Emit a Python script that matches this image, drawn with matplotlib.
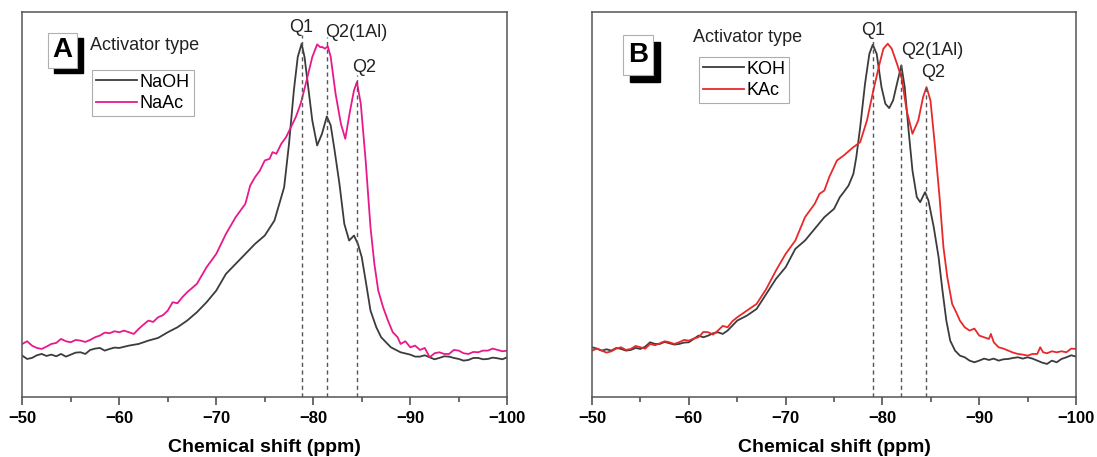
import numpy as np
import matplotlib.pyplot as plt
from matplotlib.patches import Rectangle

plt.rcParams['font.family'] = ['Liberation Sans', 'DejaVu Sans']

# 29Si NMR spectra: (chemical shift ppm, intensity a.u.)
# panel A: sodium activators
naoh = [(-50, 12.5), (-50.5, 11.5), (-51, 11.8), (-51.5, 12.6), (-52, 13.0), (-52.5, 12.4),
        (-53, 12.8), (-53.5, 12.3), (-54, 13.0), (-54.5, 12.2), (-55, 12.8), (-55.5, 13.4),
        (-56, 13.5), (-56.5, 13.0), (-57, 14.2), (-57.5, 14.6), (-58, 14.8), (-58.5, 14.0),
        (-59, 14.5), (-59.5, 14.9), (-60, 14.8), (-61, 15.5), (-62, 16.0), (-63, 17.0),
        (-64, 17.8), (-65, 19.5), (-66, 21.0), (-67, 23.0), (-68, 25.5), (-69, 28.5),
        (-70, 32.0), (-71, 37.0), (-72, 40.0), (-73, 43.0), (-74, 46.0), (-75, 48.5),
        (-76, 53.0), (-77, 63.0), (-77.5, 76.0), (-78, 92.0), (-78.4, 102.0), (-78.8, 106.0),
        (-79.1, 102.0), (-79.5, 92.5), (-79.9, 83.0), (-80.4, 75.5), (-80.9, 79.0),
        (-81.4, 84.2), (-81.8, 81.5), (-82.2, 74.0), (-82.7, 64.0), (-83.2, 52.0),
        (-83.7, 47.0), (-84.2, 48.5), (-84.6, 46.0), (-85, 42.0), (-85.4, 35.0), (-85.9, 26.0),
        (-86.5, 21.0), (-87, 18.0), (-88, 15.0), (-89, 13.5), (-90, 12.8), (-90.5, 12.2),
        (-91, 12.2), (-91.5, 12.6), (-92, 12.0), (-92.5, 11.4), (-93, 11.8), (-93.5, 12.3),
        (-94, 12.2), (-94.5, 11.8), (-95, 11.5), (-95.5, 11.0), (-96, 11.2), (-96.5, 11.8),
        (-97, 11.8), (-97.5, 11.4), (-98, 11.5), (-98.5, 11.9), (-99, 11.7), (-99.5, 11.4),
        (-100, 12.0)]

naac = [(-50, 16.0), (-50.5, 16.8), (-51, 15.5), (-51.5, 14.8), (-52, 14.5), (-52.5, 15.2),
        (-53, 16.0), (-53.5, 16.3), (-54, 17.5), (-54.5, 16.8), (-55, 16.5), (-55.5, 17.2),
        (-56, 17.0), (-56.5, 16.6), (-57, 17.2), (-57.5, 18.0), (-58, 18.5), (-58.5, 19.4),
        (-59, 19.2), (-59.5, 19.8), (-60, 19.5), (-60.5, 20.0), (-61, 19.5), (-61.5, 19.0),
        (-62, 20.5), (-62.5, 21.8), (-63, 23.0), (-63.5, 22.6), (-64, 24.0), (-64.5, 24.6),
        (-65, 26.0), (-65.5, 28.5), (-66, 28.2), (-66.5, 30.0), (-67, 31.5), (-68, 34.0),
        (-69, 39.0), (-70, 43.0), (-71, 49.0), (-72, 54.0), (-73, 58.0), (-73.5, 63.5),
        (-74, 66.0), (-74.5, 68.0), (-75, 71.0), (-75.5, 71.5), (-75.8, 73.5), (-76.2, 73.0),
        (-76.7, 76.0), (-77.2, 78.0), (-77.7, 81.0), (-78.2, 84.0), (-78.7, 88.0),
        (-79.1, 92.5), (-79.4, 96.0), (-79.9, 102.0), (-80.4, 105.8), (-80.7, 105.0),
        (-80.95, 105.0), (-81.2, 104.5), (-81.5, 105.2), (-81.8, 102.0), (-82.3, 91.0),
        (-82.85, 82.0), (-83.3, 77.5), (-83.8, 86.0), (-84.2, 92.0), (-84.5, 94.5),
        (-84.9, 88.0), (-85.4, 71.0), (-85.9, 51.0), (-86.3, 40.0), (-86.7, 32.0),
        (-87.2, 27.0), (-87.7, 23.0), (-88.2, 19.5), (-88.7, 18.0), (-89, 16.0), (-89.5, 16.8),
        (-90, 15.0), (-90.5, 15.5), (-91, 14.2), (-91.5, 14.8), (-92, 12.0), (-92.5, 13.2),
        (-93, 13.5), (-93.5, 13.0), (-94, 13.0), (-94.5, 14.2), (-95, 14.0), (-95.5, 13.2),
        (-96, 13.0), (-96.5, 13.6), (-97, 13.5), (-97.5, 14.0), (-98, 14.0), (-98.5, 14.6),
        (-99, 14.2), (-99.5, 13.8), (-100, 14.0)]

# panel B: potassium activators
koh = [(-50, 15.0), (-50.5, 14.6), (-51, 14.0), (-51.5, 14.4), (-52, 14.0), (-52.5, 14.8),
       (-53, 14.5), (-53.5, 14.0), (-54, 14.2), (-54.5, 14.8), (-55, 14.5), (-55.5, 15.2),
       (-56, 16.5), (-56.5, 16.0), (-57, 16.0), (-57.5, 16.6), (-58, 16.2), (-58.5, 15.8),
       (-59, 16.0), (-59.5, 16.4), (-60, 16.5), (-60.5, 17.5), (-61, 18.5), (-61.5, 18.0),
       (-62, 18.5), (-62.5, 19.2), (-63, 19.5), (-63.5, 19.0), (-64, 20.0), (-64.5, 21.5),
       (-65, 23.0), (-66, 24.5), (-67, 26.5), (-68, 31.0), (-69, 35.5), (-70, 39.0),
       (-71, 44.5), (-72, 47.0), (-73, 50.5), (-74, 54.0), (-75, 56.5), (-75.6, 60.0),
       (-76, 61.5), (-76.5, 63.5), (-77, 67.0), (-77.3, 72.0), (-77.7, 81.0), (-78.2, 94.0),
       (-78.65, 103.0), (-79.0, 105.7), (-79.4, 103.0), (-79.9, 93.0), (-80.3, 88.0),
       (-80.7, 86.7), (-81.1, 89.0), (-81.5, 94.0), (-81.95, 99.5), (-82.3, 93.0),
       (-82.7, 80.0), (-83.1, 68.0), (-83.55, 60.0), (-83.9, 58.5), (-84.4, 61.5),
       (-84.75, 59.0), (-85.3, 51.0), (-85.8, 42.0), (-86.2, 32.0), (-86.6, 23.0),
       (-87, 17.0), (-87.5, 14.0), (-88, 12.5), (-88.5, 12.0), (-89, 11.0), (-89.5, 10.5),
       (-90, 11.0), (-90.5, 11.6), (-91, 11.2), (-91.5, 11.6), (-92, 11.0), (-92.5, 11.4),
       (-93, 11.5), (-93.5, 11.8), (-94, 12.0), (-94.5, 11.6), (-95, 12.0), (-95.5, 11.6),
       (-96, 11.0), (-96.5, 10.4), (-97, 10.0), (-97.5, 11.0), (-98, 10.5), (-98.5, 11.5),
       (-99, 12.0), (-99.5, 12.6), (-100, 12.2)]

kac = [(-50, 14.0), (-50.5, 14.6), (-51, 14.0), (-51.5, 13.4), (-52, 13.8), (-52.5, 14.6),
       (-53, 15.0), (-53.5, 14.2), (-54, 14.5), (-54.5, 15.4), (-55, 15.0), (-55.5, 14.6),
       (-56, 16.0), (-56.5, 15.6), (-57, 16.2), (-57.5, 16.8), (-58, 16.5), (-58.5, 16.0),
       (-59, 16.5), (-59.5, 17.2), (-60, 17.0), (-60.5, 17.6), (-61, 18.0), (-61.5, 19.6),
       (-62, 19.5), (-62.5, 18.8), (-63, 20.0), (-63.5, 21.4), (-64, 21.0), (-64.5, 22.8),
       (-65, 24.0), (-66, 26.0), (-67, 28.0), (-68, 32.5), (-69, 38.0), (-70, 43.0),
       (-71, 47.0), (-72, 54.0), (-73, 58.0), (-73.5, 61.0), (-74, 62.0), (-74.5, 66.0),
       (-75.3, 71.0), (-76, 72.5), (-77, 75.0), (-77.7, 76.5), (-78.4, 83.0), (-79.06, 92.0),
       (-79.7, 100.0), (-80.1, 104.5), (-80.55, 106.0), (-80.96, 104.5), (-81.5, 100.0),
       (-82.0, 95.5), (-82.5, 86.0), (-83.1, 79.0), (-83.7, 83.0), (-84.2, 90.0),
       (-84.55, 93.0), (-84.96, 89.0), (-85.4, 76.0), (-85.9, 60.0), (-86.3, 45.0),
       (-86.7, 36.0), (-87.2, 28.0), (-87.7, 25.0), (-88, 23.0), (-88.5, 21.0), (-89, 20.0),
       (-89.5, 20.6), (-90, 18.5), (-90.5, 18.0), (-91, 17.5), (-91.2, 19.0), (-91.5, 16.5),
       (-92, 15.0), (-92.5, 14.6), (-93, 14.0), (-93.5, 13.4), (-94, 13.0), (-94.5, 12.8),
       (-95, 12.5), (-95.5, 13.0), (-96, 13.0), (-96.3, 15.0), (-96.6, 13.5), (-97, 13.2),
       (-97.5, 13.8), (-98, 13.5), (-98.5, 13.8), (-99, 13.5), (-99.5, 14.6), (-100, 14.5)]

# peak markers: label, shift, top of dashed line, label x, label y
peaks_a = [('Q1', -78.8, 108.5, -78.7, 111), ('Q2(1Al)', -81.4, 108, -84.4, 109.5),
           ('Q2', -84.5, 96.5, -85.2, 99)]
peaks_b = [('Q1', -79.0, 107, -79.06, 110), ('Q2(1Al)', -81.95, 100, -85.1, 104),
           ('Q2', -84.55, 94, -85.2, 97.5)]

fig = plt.figure(figsize=(10.97, 4.57), dpi=100)
axA = fig.add_axes([0.0203, 0.1306, 0.4421, 0.8431])
axB = fig.add_axes([0.5397, 0.1306, 0.4412, 0.8431])


def draw_panel(ax, series, peaks, letter, box, shadow, title_pos, leg_anchor):
    for pts, c, lab in series:
        x, y = zip(*pts)
        ax.plot(x, y, color=c, lw=1.3, label=lab)
    for name, xp, top, lx, ly in peaks:
        ax.plot([xp, xp], [0, top], ls=(0, (3, 2.5)), color='#555555', lw=1.0)
        ax.text(lx, ly, name, ha='center', va='center', fontsize=13, color='#222222')
    ax.set_xlim(-50, -100)
    ax.set_ylim(0, 115.5)
    ax.set_yticks([])
    ax.set_xticks([-50, -60, -70, -80, -90, -100])
    ax.set_xticks([-55, -65, -75, -85, -95], minor=True)
    ax.set_xticklabels(['\u221250', '\u221260', '\u221270', '\u221280', '\u221290', '\u2212100'],
                       fontweight='bold', fontsize=12)
    ax.tick_params(axis='x', which='major', direction='out', length=6, width=1.1,
                   colors='#444444', labelcolor='black', pad=4)
    ax.tick_params(axis='x', which='minor', direction='out', length=3.5, width=1.1,
                   colors='#444444')
    for s in ax.spines.values():
        s.set_color('#555555')
        s.set_linewidth(1.1)
    ax.set_xlabel('Chemical shift (ppm)', fontsize=14, fontweight='bold', labelpad=9)

    # letter box with a black drop shadow
    bx, by, bw, bh = box
    ax.add_patch(Rectangle((bx + shadow[0], by - shadow[1]), bw, bh, transform=ax.transAxes,
                           facecolor='black', edgecolor='black', zorder=5))
    ax.add_patch(Rectangle((bx, by), bw, bh, transform=ax.transAxes,
                           facecolor='white', edgecolor='#b0b0b0', lw=0.8, zorder=6))
    ax.text(bx + bw / 2, by + bh / 2, letter, transform=ax.transAxes, ha='center',
            va='center', fontsize=20, fontweight='bold', zorder=7)

    ax.text(title_pos[0], title_pos[1], 'Activator type', transform=ax.transAxes,
            fontsize=13, ha='left', va='center', color='#222222')
    leg = ax.legend(loc='upper left', bbox_to_anchor=leg_anchor, frameon=True, fancybox=False,
                    fontsize=13, handlelength=2.3, handletextpad=0.15, borderpad=0.2,
                    labelspacing=0.25, borderaxespad=0)
    leg.get_frame().set_edgecolor('#999999')
    leg.get_frame().set_linewidth(0.8)


draw_panel(axA, [(naoh, '#3c3c3c', 'NaOH'), (naac, '#e8198b', 'NaAc')], peaks_a, 'A',
           (0.053, 0.855, 0.060, 0.091), (0.0124, 0.013), (0.1396, 0.914), (0.1437, 0.849))
draw_panel(axB, [(koh, '#3c3c3c', 'KOH'), (kac, '#e8292b', 'KAc')], peaks_b, 'B',
           (0.064, 0.836, 0.062, 0.104), (0.0145, 0.018), (0.2087, 0.935), (0.221, 0.883))

fig.savefig('out.png', dpi=100)
